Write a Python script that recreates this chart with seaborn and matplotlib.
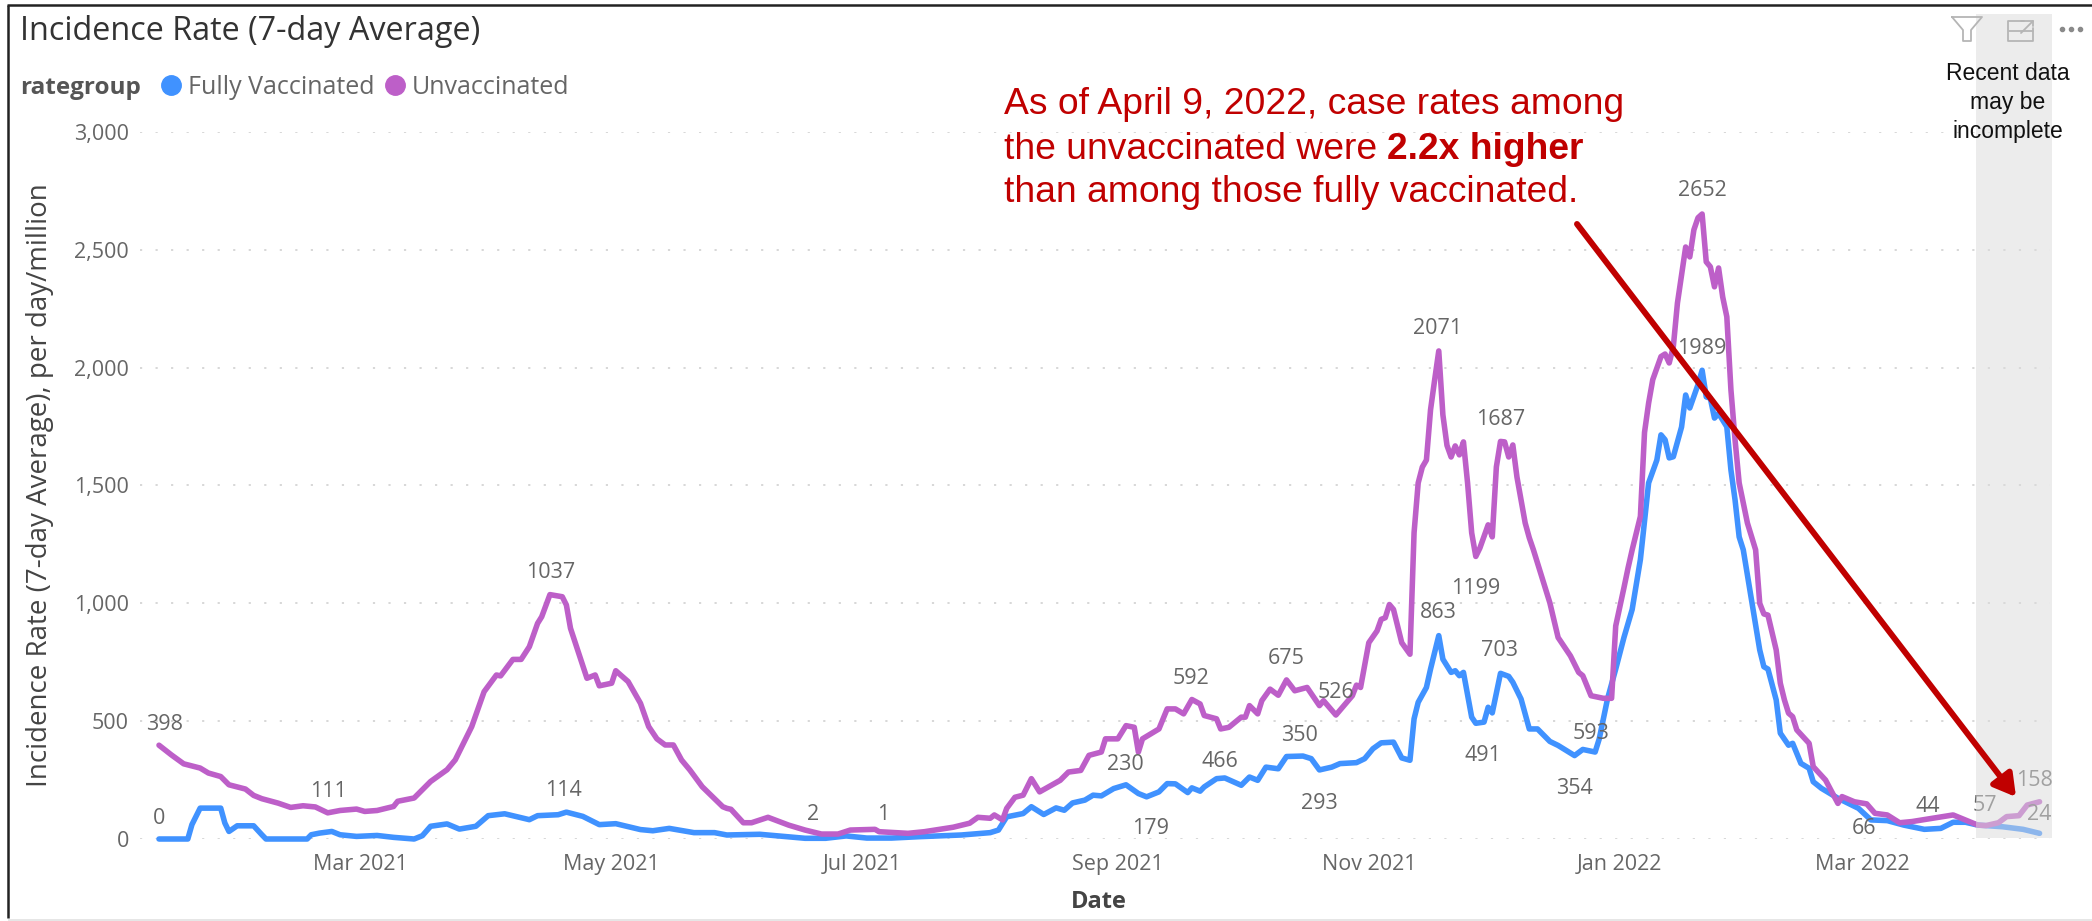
import matplotlib
matplotlib.use("Agg")
import matplotlib.pyplot as plt
import matplotlib.dates as mdates
from matplotlib.lines import Line2D
from matplotlib.patches import FancyArrowPatch, Rectangle
from matplotlib.ticker import FuncFormatter
import pandas as pd
import seaborn as sns

START_DATE = "2021-01-11"

unvax_days = [0,2,3,6,10,12,15,17,21,23,25,29,32,35,38,41,44,48,50,53,57,58,62,64,66,70,72,74,76,79,82,83,86,88,90,92,93,95,98,99,100,102,104,106,107,110,111,114,117,119,121,123,125,127,129,132,137,138,139,142,144,148,153,157,161,165,168,174,175,182,186,193,197,199,202,203,205,206,208,210,212,214,219,221,224,226,229,230,233,235,237,238,239,243,245,247,249,251,253,254,257,258,260,263,264,265,267,268,270,272,274,276,279,282,283,286,290,291,292,294,296,297,298,299,300,302,304,305,306,307,308,309,310,311,312,313,314,315,316,317,318,319,320,321,323,324,325,326,327,328,329,330,332,333,334,336,338,340,343,345,346,348,351,353,354,356,357,358,360,361,362,363,365,366,367,368,369,371,372,373,374,375,376,377,378,379,380,381,382,383,384,386,388,389,390,391,393,394,395,396,397,398,401,402,405,408,409,412,415,417,420,423,426,431,436,442,444,447,449,452,454,457]
unvax_rate = [398,371,357,319,301,280,265,230,212,185,171,152,134,141,136,111,121,127,117,121,138,160,174,209,244,294,336,407,477,625,696,692,762,762,816,915,943,1037,1028,993,894,788,682,696,650,661,714,668,576,477,425,399,399,335,293,222,137,130,126,69,69,92,59,38,21,21,38,41,31,24,31,50,67,92,88,102,81,130,177,186,256,200,249,284,291,355,369,425,425,481,474,369,425,467,552,552,531,592,573,524,510,467,474,517,517,566,531,587,636,610,675,629,643,566,587,526,608,653,643,833,883,932,939,995,974,833,784,1300,1511,1578,1608,1821,1948,2071,1800,1670,1621,1668,1630,1685,1511,1299,1199,1235,1333,1282,1579,1687,1685,1621,1672,1536,1341,1278,1227,1115,1002,855,777,707,693,608,597,597,904,1066,1150,1227,1369,1725,1850,1949,2047,2058,2020,2089,2274,2512,2470,2585,2636,2652,2449,2428,2343,2423,2300,2216,1906,1694,1511,1341,1227,1000,955,950,802,661,590,534,519,463,406,307,250,151,180,158,149,109,102,69,74,88,102,59,57,69,95,99,144,158]

vax_days = [0,7,8,10,15,16,17,19,23,25,26,36,37,39,42,44,48,53,57,62,64,66,70,73,77,80,84,90,92,97,99,103,107,111,117,120,124,130,135,138,146,157,162,167,172,178,185,195,202,204,206,210,212,215,218,220,222,225,227,229,232,235,238,240,243,245,247,250,251,253,254,257,259,263,265,267,269,272,274,278,280,282,285,287,291,293,295,297,300,302,304,305,306,308,309,311,312,314,315,316,317,319,320,322,323,324,326,328,329,331,333,335,338,340,344,346,349,350,352,354,356,358,360,362,364,365,366,367,368,370,371,372,374,375,376,377,378,379,381,382,383,384,385,389,390,391,393,394,396,397,399,401,402,404,408,413,416,420,424,429,433,436,439,442,448,453,457]
vax_rate = [0,0,61,131,131,68,32,56,56,18,0,0,18,25,32,18,11,15,7,0,14,54,64,42,54,99,107,82,99,103,114,96,61,65,40,35,45,27,27,17,20,3,3,13,4,4,10,17,27,38,94,108,137,104,132,122,153,165,186,183,214,230,193,179,200,235,234,197,217,203,221,256,259,228,263,249,305,298,350,352,341,293,305,320,324,341,383,408,411,344,334,510,580,643,721,863,763,707,714,693,707,517,491,496,559,535,703,690,665,594,467,467,414,397,354,380,369,425,594,721,855,974,1186,1511,1608,1715,1694,1617,1622,1748,1884,1829,1928,1989,1876,1870,1786,1806,1749,1566,1439,1282,1227,802,731,721,590,449,398,406,321,300,243,215,173,130,81,78,59,41,45,71,71,59,52,41,24]

series_names = ["Fully Vaccinated", "Unvaccinated"]
series_colors = ["#4092FF", "#BD5FC8"]

y_ticks = [0, 500, 1000, 1500, 2000, 2500, 3000]
x_tick_dates = ["2021-03-01", "2021-05-01", "2021-07-01", "2021-09-01", "2021-11-01", "2022-01-01", "2022-03-01"]

value_labels = ["398","0","111","1037","114","2","1","230","179","592","466","675","350","293","526","863","1199","703","491","593","354","2071","1687","2652","1989","158","24","57","44","66"]
label_px = [(165,724),(159,819),(328,791),(551,572),(563,790),(813,815),(883,815),(1125,764),(1151,829),(1191,678),(1220,761),(1286,659),(1299,735),(1319,803),(1336,692),(1438,613),(1476,588),(1500,651),(1483,755),(1591,733),(1574,788),(1438,328),(1501,419),(1702,190),(1702,349),(2034,780),(2039,814),(1985,805),(1928,807),(1864,829)]

W, H = 2092, 921
def fx(px): return px / W
def fy(py): return 1 - py / H

sns.set_theme(style="white")
plt.rcParams["font.family"] = ["Open Sans", "DejaVu Sans"]

start = pd.Timestamp(START_DATE)
df = pd.concat([
    pd.DataFrame({"Date": start + pd.to_timedelta(vax_days, unit="D"), "rate": vax_rate, "rategroup": series_names[0]}),
    pd.DataFrame({"Date": start + pd.to_timedelta(unvax_days, unit="D"), "rate": unvax_rate, "rategroup": series_names[1]}),
])

fig = plt.figure(figsize=(W / 100, H / 100), dpi=100, facecolor="white")
ax = fig.add_axes([fx(140), fy(839), (2050 - 140) / W, (839 - 132) / H])
ax.set_facecolor("none")

sns.lineplot(data=df, x="Date", y="rate", hue="rategroup", hue_order=series_names,
             palette=series_colors, linewidth=4.0, legend=False, ax=ax, errorbar=None, zorder=3,
             solid_joinstyle="round", clip_on=False)

px_per_day = 4.115
ax.set_xlim(start + pd.Timedelta(days=(140 - 159) / px_per_day), start + pd.Timedelta(days=(2050 - 159) / px_per_day))
ax.set_ylim(0, 3000)
ax.set_yticks(y_ticks)
ax.yaxis.set_major_formatter(FuncFormatter(lambda v, _: f"{int(v):,}"))
ax.set_xticks(pd.to_datetime(x_tick_dates))
ax.xaxis.set_major_formatter(mdates.DateFormatter("%b %Y"))
ax.tick_params(axis="both", length=0, labelsize=15.5, labelcolor="#666666")
ax.tick_params(axis="x", pad=11)
ax.tick_params(axis="y", pad=8)
ax.grid(axis="y", color="#d4d4d4", linewidth=1.3, linestyle=(0, (1.2, 7.4)))
ax.set_axisbelow(True)
for s in ax.spines.values():
    s.set_visible(False)
ax.set_xlabel("")
ax.set_ylabel("")

fig.text(fx(1099), fy(902), "Date", ha="center", va="center", fontsize=17, fontweight="bold", color="#444444")
fig.text(fx(40), fy(485), "Incidence Rate (7-day Average), per day/million", rotation=90, ha="center", va="center",
         fontsize=20, color="#444444")
fig.text(fx(20), fy(31), "Incidence Rate (7-day Average)", ha="left", va="center", fontsize=23.3, color="#333333")

fig.text(fx(20), fy(88), "rategroup", ha="left", va="center", fontsize=17.5, fontweight="bold", color="#555555")
legend_handles = [Line2D([], [], marker="o", linestyle="none", markersize=14, color=c, label=n)
                  for c, n in zip(series_colors, series_names)]
fig.legend(handles=legend_handles, ncols=2, frameon=False, loc="center left",
           bbox_to_anchor=(fx(133), fy(87)), fontsize=18, labelcolor="#666666",
           handletextpad=-0.31, columnspacing=-0.18, borderpad=0)

for txt, (px, py) in zip(value_labels, label_px):
    fig.text(fx(px), fy(py), txt, ha="center", va="center", fontsize=15.5, color="#666666", zorder=2)

# shaded "recent data" band sits over the lines and lightens them
fig.add_artist(Rectangle((fx(1976), fy(838)), (2052 - 1976) / W, (838 - 14) / H, transform=fig.transFigure,
                         facecolor="#dbdbdb", alpha=0.5, edgecolor="none", zorder=5))

for i, line in enumerate(["Recent data", "may be", "incomplete"]):
    fig.text(fx(2008), fy([73, 102, 131][i]), line, ha="center", va="center", fontsize=16.5,
             family=["Liberation Sans"], color="#111111", zorder=6)

RED = "#C00000"
note_font = dict(family=["Liberation Sans"], color=RED, fontsize=26.8, va="baseline", ha="left", zorder=7)
fig.text(fx(1004), fy(114), "As of April 9, 2022, case rates among", **note_font)
t2 = fig.text(fx(1004), fy(159), "the unvaccinated were", **note_font)
fig.text(fx(1004), fy(202), "than among those fully vaccinated.", **note_font)
fig.canvas.draw()
t2_right = t2.get_window_extent().x1
fig.text((t2_right + 10) / W, fy(159), "2.2x higher", fontweight="bold", **note_font)

fig.add_artist(FancyArrowPatch((fx(1577), fy(224)), (fx(2016), fy(797)), transform=fig.transFigure,
                               arrowstyle="-|>,head_length=13,head_width=7.5", mutation_scale=1,
                               color=RED, linewidth=4.3, shrinkA=0, shrinkB=0, zorder=7))

# report frame and visual-header icons
frame = dict(transform=fig.transFigure, zorder=8, solid_capstyle="butt")
fig.add_artist(Line2D([fx(8), fx(8)], [fy(5), fy(918)], color="#222222", linewidth=1.8, **frame))
fig.add_artist(Line2D([fx(7), fx(2092)], [fy(5.5), fy(5.5)], color="#222222", linewidth=1.8, **frame))
fig.add_artist(Line2D([fx(8), fx(2092)], [fy(920), fy(920)], color="#e2e2e2", linewidth=1.2, **frame))
icon = dict(transform=fig.transFigure, color="#b5b5b5", linewidth=1.3, zorder=8)
fig.add_artist(Line2D([fx(x) for x in (1952, 1982, 1971, 1971, 1963, 1963, 1952)],
                      [fy(y) for y in (17, 17, 30, 41, 41, 30, 17)], **icon))
fig.add_artist(Line2D([fx(x) for x in (2024, 2008, 2008, 2033, 2033)],
                      [fy(y) for y in (21, 21, 41, 41, 28)], **icon))
fig.add_artist(Line2D([fx(2009), fx(2033)], [fy(31), fy(31)], **icon))
fig.add_artist(Line2D([fx(2021), fx(2033), fx(2033)], [fy(21), fy(21), fy(26)], **icon))
fig.add_artist(Line2D([fx(2021), fx(2033)], [fy(33), fy(21)], **icon))
fig.add_artist(Line2D([fx(2062), fx(2071), fx(2080)], [fy(29)] * 3, transform=fig.transFigure, linestyle="none",
                      marker="o", markersize=3, color="#8a8a8a", zorder=8))

fig.savefig("out.png", dpi=100, facecolor="white")
